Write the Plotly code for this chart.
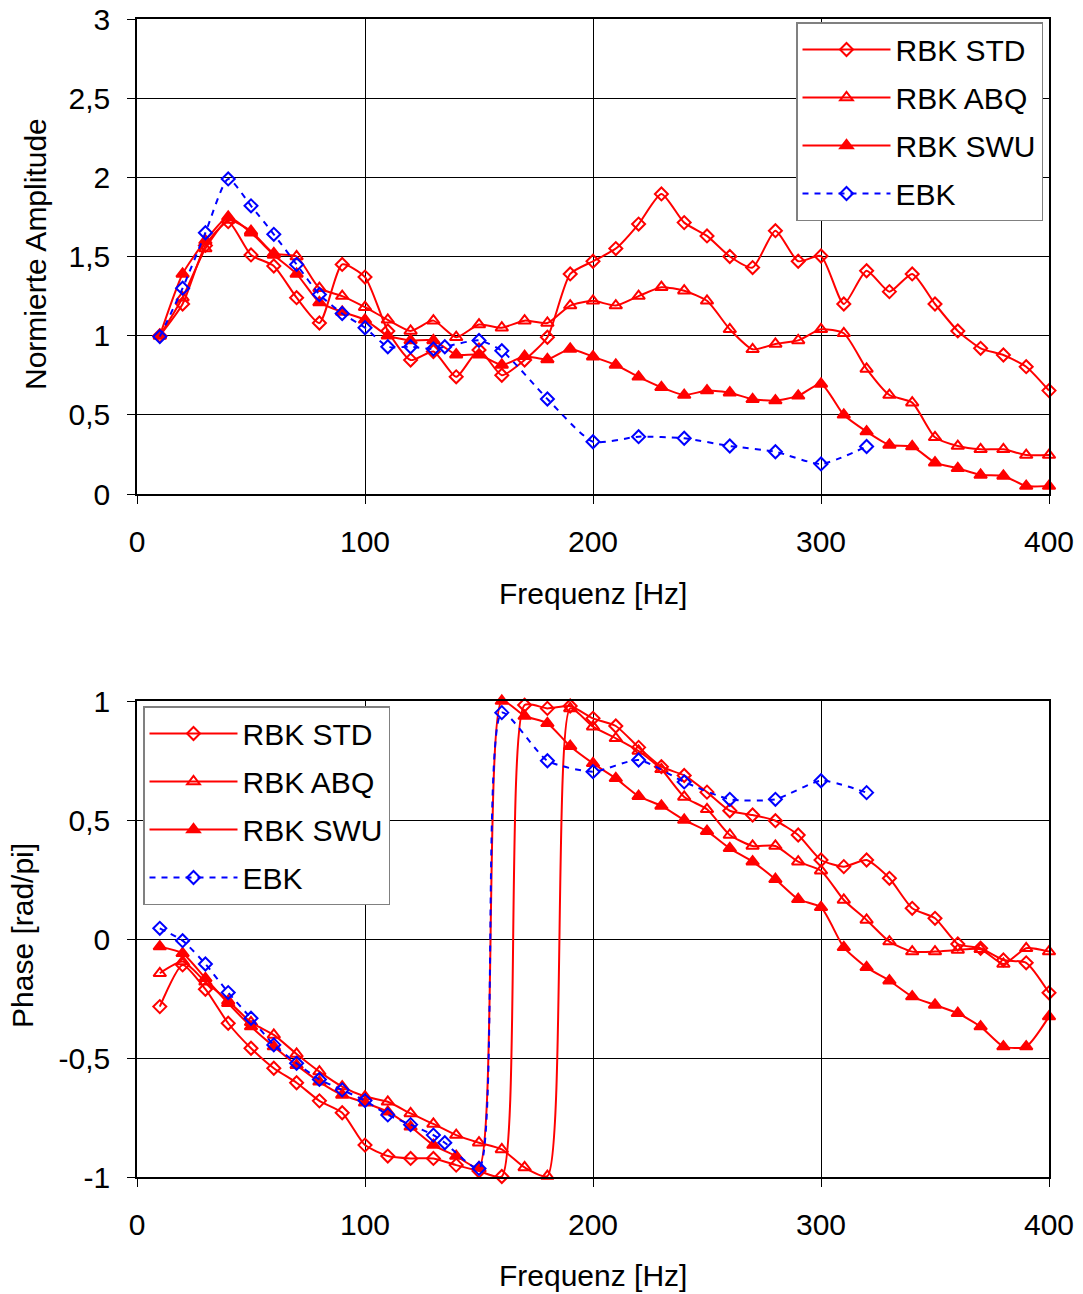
import plotly.graph_objects as go

# ---------------- data ----------------
freq = list(range(10, 410, 10))
freq_ebk = [10, 20, 30, 40, 50, 60, 70, 80, 90, 100, 110, 120, 130, 135, 150, 160, 180, 200, 220, 240, 260, 280, 300, 320]

amp_std = [1.0, 1.2, 1.57, 1.72, 1.51, 1.44, 1.24, 1.08, 1.45, 1.37, 1.03, 0.846, 0.90, 0.74, 0.91, 0.75, 0.846, 0.99, 1.39, 1.47,
           1.55, 1.705, 1.895, 1.714, 1.63, 1.5, 1.43, 1.663, 1.47, 1.503, 1.2, 1.41, 1.278, 1.39, 1.2, 1.03, 0.92, 0.878, 0.804, 0.653]
amp_abq = [1.0, 1.24, 1.55, 1.73, 1.66, 1.52, 1.5, 1.30, 1.25, 1.18, 1.10, 1.03, 1.095, 0.99, 1.07, 1.05, 1.095, 1.08, 1.19, 1.22,
           1.19, 1.25, 1.306, 1.284, 1.22, 1.04, 0.914, 0.948, 0.97, 1.04, 1.015, 0.79, 0.625, 0.577, 0.358, 0.303, 0.282, 0.282, 0.246, 0.246]
amp_swu = [1.0, 1.39, 1.6, 1.75, 1.65, 1.51, 1.39, 1.21, 1.15, 1.1, 1.0, 0.97, 0.97, 0.88, 0.88, 0.815, 0.87, 0.85, 0.916, 0.867,
           0.815, 0.74, 0.674, 0.625, 0.653, 0.64, 0.598, 0.59, 0.62, 0.695, 0.5, 0.394, 0.31, 0.3, 0.198, 0.162, 0.12, 0.114, 0.05, 0.05]
amp_ebk = [0.994, 1.3, 1.65, 1.99, 1.82, 1.64, 1.45, 1.26, 1.14, 1.05, 0.93, 0.93, 0.916, 0.93, 0.97, 0.905, 0.6, 0.33, 0.362, 0.352,
           0.303, 0.267, 0.19, 0.3]

ph_std = [-0.284, -0.109, -0.211, -0.354, -0.459, -0.543, -0.604, -0.68, -0.73, -0.866, -0.912, -0.922, -0.922, -0.95, -0.975, -0.998,
          0.983, 0.969, 0.979, 0.927, 0.895, 0.805, 0.724, 0.687, 0.617, 0.539, 0.521, 0.497, 0.437, 0.332, 0.304, 0.332, 0.255, 0.129,
          0.087, -0.021, -0.039, -0.088, -0.1, -0.226]
ph_abq = [-0.144, -0.095, -0.18, -0.26, -0.35, -0.403, -0.483, -0.557, -0.62, -0.662, -0.684, -0.733, -0.777, -0.824, -0.856, -0.884,
          -0.96, -0.996, 0.969, 0.892, 0.843, 0.79, 0.713, 0.597, 0.545, 0.437, 0.391, 0.391, 0.325, 0.287, 0.164, 0.08, -0.011, -0.053,
          -0.053, -0.046, -0.043, -0.105, -0.039, -0.053]
ph_swu = [-0.032, -0.06, -0.165, -0.27, -0.368, -0.452, -0.53, -0.6, -0.655, -0.688, -0.726, -0.789, -0.866, -0.912, -0.96, 1.0,
          0.937, 0.906, 0.81, 0.738, 0.675, 0.6, 0.559, 0.5, 0.453, 0.381, 0.325, 0.251, 0.167, 0.133, -0.035, -0.119, -0.175, -0.242,
          -0.277, -0.312, -0.368, -0.452, -0.452, -0.326]
ph_ebk = [0.045, -0.007, -0.105, -0.225, -0.333, -0.445, -0.522, -0.59, -0.634, -0.679, -0.739, -0.78, -0.824, -0.856, -0.964, 0.951,
          0.749, 0.703, 0.752, 0.66, 0.587, 0.587, 0.665, 0.615]

names = ["RBK STD", "RBK ABQ", "RBK SWU", "EBK"]
x_ticks = [0, 100, 200, 300, 400]
amp_ticks = [0, 0.5, 1, 1.5, 2, 2.5, 3]
amp_ticktext = ["0", "0,5", "1", "1,5", "2", "2,5", "3"]
ph_ticks = [-1, -0.5, 0, 0.5, 1]
ph_ticktext = ["-1", "-0,5", "0", "0,5", "1"]

# ---------------- styles ----------------
RED = "#FF0000"
BLUE = "#0000FF"
FONT = "Liberation Sans, Arial, sans-serif"
FS = 30
styles = [
    dict(color=RED, symbol="diamond-open", size=10, dash="solid"),
    dict(color=RED, symbol="triangle-up-open", size=11, dash="solid"),
    dict(color=RED, symbol="triangle-up", size=11, dash="solid"),
    dict(color=BLUE, symbol="diamond-open", size=10, dash="6px,6px"),
]

fig = go.Figure()

amp_series = [(freq, amp_std), (freq, amp_abq), (freq, amp_swu), (freq_ebk, amp_ebk)]
ph_series = [(freq, ph_std), (freq, ph_abq), (freq, ph_swu), (freq_ebk, ph_ebk)]

for i, ((xs, ys), st) in enumerate(zip(amp_series, styles)):
    fig.add_trace(go.Scatter(
        x=xs, y=ys, name=names[i], mode="lines+markers",
        line=dict(color=st["color"], width=2, dash=st["dash"], shape="spline", smoothing=0.6),
        marker=dict(symbol=st["symbol"], size=st["size"], color=st["color"],
                    line=dict(color=st["color"], width=2)),
        xaxis="x", yaxis="y", legend="legend", legendgroup="a%d" % i, cliponaxis=False,
    ))

for i, ((xs, ys), st) in enumerate(zip(ph_series, styles)):
    fig.add_trace(go.Scatter(
        x=xs, y=ys, name=names[i], mode="lines+markers",
        line=dict(color=st["color"], width=2, dash=st["dash"], shape="spline", smoothing=0.6),
        marker=dict(symbol=st["symbol"], size=st["size"], color=st["color"],
                    line=dict(color=st["color"], width=2)),
        xaxis="x2", yaxis="y2", legend="legend2", legendgroup="b%d" % i, cliponaxis=False,
    ))

axis_common = dict(
    showline=True, linecolor="black", linewidth=1.5, mirror=True,
    showgrid=True, gridcolor="black", gridwidth=1,
    zeroline=False, ticks="outside", ticklen=8, tickcolor="black",
    tickfont=dict(family=FONT, size=FS, color="black"),
    automargin=False, ticklabeloverflow="allow",
)

legend_common = dict(
    font=dict(family=FONT, size=FS, color="black"),
    bgcolor="white", bordercolor="#808080", borderwidth=1.5,
    traceorder="grouped", tracegroupgap=6, itemwidth=88,
)

# page coordinates (the page body margin is removed below)
W, H = 1083, 1294
PL, PR, PT, PB = 137, 1049, 19, 1177
PW, PH = PR - PL, PB - PT


def py(page_y):
    return (PB - page_y) / PH


def px(page_x):
    return (page_x - PL) / PW


title_font = dict(family=FONT, size=FS, color="black")
annotations = [
    dict(text="Frequenz [Hz]", xref="paper", yref="paper", x=0.5, y=py(593),
         xanchor="center", yanchor="middle", showarrow=False, font=title_font),
    dict(text="Frequenz [Hz]", xref="paper", yref="paper", x=0.5, y=py(1275),
         xanchor="center", yanchor="middle", showarrow=False, font=title_font),
    dict(text="Normierte Amplitude", xref="paper", yref="paper", x=px(36), y=py(254),
         xanchor="center", yanchor="middle", showarrow=False, textangle=-90, font=title_font),
    dict(text="Phase [rad/pi]", xref="paper", yref="paper", x=px(22), y=py(936),
         xanchor="center", yanchor="middle", showarrow=False, textangle=-90, font=title_font),
]

fig.update_layout(
    width=W, height=H,
    margin=dict(l=PL, r=W - PR, t=PT, b=H - PB, pad=0),
    paper_bgcolor="white", plot_bgcolor="white",
    font=dict(family=FONT, size=FS, color="black"),
    xaxis=dict(domain=[0, 1], range=[0, 400], tickvals=x_ticks, anchor="y",
               ticklabelstandoff=12, **axis_common),
    yaxis=dict(domain=[py(494), 1], range=[0, 3], tickvals=amp_ticks, ticktext=amp_ticktext,
               anchor="x", ticklabelstandoff=11, **axis_common),
    xaxis2=dict(domain=[0, 1], range=[0, 400], tickvals=x_ticks, anchor="y2",
                ticklabelstandoff=12, **axis_common),
    yaxis2=dict(domain=[0, py(701)], range=[-1, 1], tickvals=ph_ticks, ticktext=ph_ticktext,
                anchor="x2", ticklabelstandoff=11, **axis_common),
    legend=dict(x=px(1043), y=py(22), xanchor="right", yanchor="top", **legend_common),
    legend2=dict(x=px(143), y=py(706), xanchor="left", yanchor="top", **legend_common),
    annotations=annotations,
    showlegend=True,
)

fig.write_html("out.html", config={"displayModeBar": False},
               post_script="document.body.style.margin='0';")
